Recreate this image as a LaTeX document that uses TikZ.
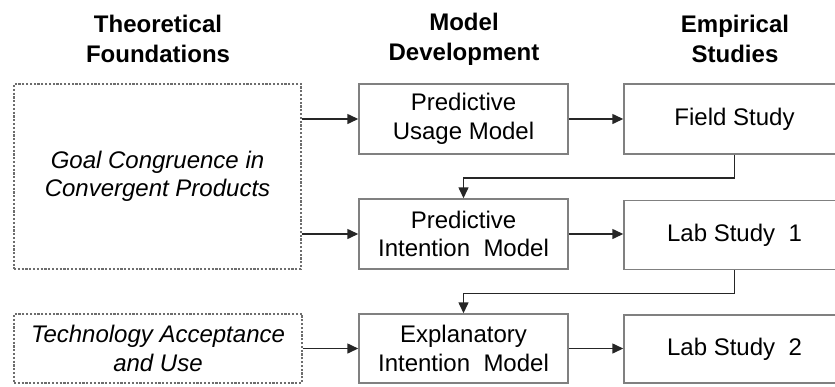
\documentclass[tikz,border=0pt]{standalone}
\usepackage{fontspec}
\setmainfont{Liberation Sans}
\usetikzlibrary{arrows.meta}

\definecolor{boxline}{HTML}{808080}
\definecolor{wire}{HTML}{262626}

\tikzset{
  header/.style={align=center, font=\fontsize{24}{30}\selectfont\bfseries},
  stagebox/.style={draw=boxline, line width=1.5pt, fill=white, align=center,
    inner sep=0pt, font=\fontsize{24}{28.5}\selectfont},
  theorybox/.style={stagebox, dash pattern=on 2.2pt off 1.6pt, line width=1.2pt,
    draw=boxline!85!black, font=\fontsize{24}{28.5}\selectfont\itshape},
  flow/.style={draw=wire, line width=1.5pt, -{Triangle[length=11pt,width=10pt]}},
}

\begin{document}
\begin{tikzpicture}[x=1pt, y=-1pt]
\useasboundingbox (0,0) rectangle (835,386);
\clip (0,0) rectangle (835,386);

% column headings
\node[header] (h1) at (158,39) {Theoretical\\Foundations};
\node[header] (h2) at (464,39) {Model\\Development};
\node[header] (h3) at (735,39) {Empirical\\Studies};

% theoretical foundations
\node[theorybox, minimum width=287pt, minimum height=185pt] (tf) at (157.5,176.5)
  {Goal Congruence in\\Convergent Products};
\node[theorybox, minimum width=288pt, minimum height=69pt] (ta) at (158,348.5)
  {Technology Acceptance\\and Use};

% models
\node[stagebox, minimum width=209pt, minimum height=70pt] (pu) at (463.5,119)
  {Predictive\\Usage Model};
\node[stagebox, minimum width=209pt, minimum height=70pt] (pi) at (463.5,234)
  {Predictive\\Intention\ \ Model};
\node[stagebox, minimum width=209pt, minimum height=69pt] (ei) at (463.5,348.5)
  {Explanatory\\Intention\ \ Model};

% studies
\node[stagebox, minimum width=221pt, minimum height=70pt] (fs) at (734.5,119)
  {Field Study};
\node[stagebox, minimum width=221pt, minimum height=69pt] (l1) at (734.5,235)
  {Lab Study\ \ 1};
\node[stagebox, minimum width=221pt, minimum height=68pt] (l2) at (734.5,349)
  {Lab Study\ \ 2};

% connectors
\draw[flow] (tf.east |- pu) -- (pu.west);
\draw[flow] (tf.east |- pi) -- (pi.west);
\draw[flow] (ta.east) -- (ei.west);
\draw[flow] (pu.east) -- (fs.west |- pu);
\draw[flow] (pi.east) -- (l1.west |- pi);
\draw[flow] (ei.east) -- (l2.west |- ei);
\draw[flow] (fs.south) -- ++(0,23) -| (pi.north);
\draw[flow] (l1.south) -- ++(0,23) -| (ei.north);
\end{tikzpicture}
\end{document}
